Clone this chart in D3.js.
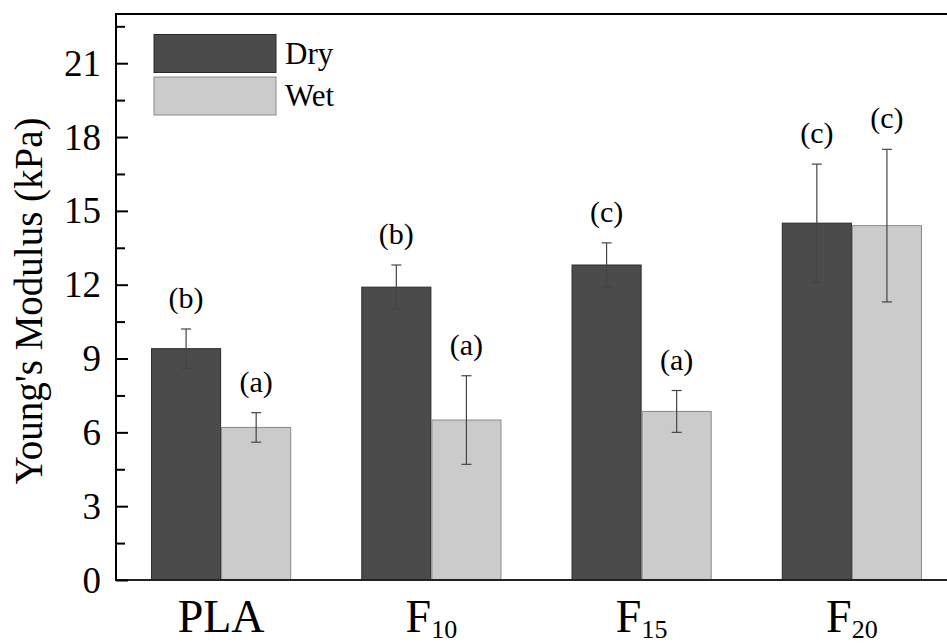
<!DOCTYPE html>
<html>
<head>
<meta charset="utf-8">
<script src="https://cdn.jsdelivr.net/npm/d3@7/dist/d3.min.js"></script>
<style>
  body{margin:0;background:#fff;}
  svg{display:block;font-family:"Liberation Serif","Times New Roman",serif;}
</style>
</head>
<body>
<svg width="947" height="644"></svg>
<script>
// data
const categories=['PLA','F','F','F'];
const subscripts=['','10','15','20'];
const series=['Dry','Wet'];
const dryValues=[9.4,11.9,12.8,14.5];
const dryErrors=[0.8,0.9,0.9,2.4];
const wetValues=[6.2,6.5,6.85,14.4];
const wetErrors=[0.6,1.8,0.85,3.1];
const dryLetters=['(b)','(b)','(c)','(c)'];
const wetLetters=['(a)','(a)','(a)','(c)'];
const yTicks=[0,3,6,9,12,15,18,21];

const svg=d3.select('svg');
const mLeft=116,mTop=14,mBottom=580,mRight=957;
const colors={Dry:'#4b4b4b',Wet:'#cbcbcb'};
const strokes={Dry:'#2a2a2a',Wet:'#8a8a8a'};

const groups=categories.map((c,i)=>'g'+i);
const x=d3.scaleBand()
  .domain(groups)
  .range([mLeft,mRight])
  .paddingInner(1/3)
  .paddingOuter(1/6);
const xSub=d3.scaleBand()
  .domain(series)
  .range([0,x.bandwidth()]);
const y=d3.scaleLinear()
  .domain([0,23])
  .range([mBottom,mTop]);

const rows=[];
groups.forEach((g,i)=>{
  rows.push({g:g,s:'Dry',v:dryValues[i],e:dryErrors[i],l:dryLetters[i]});
  rows.push({g:g,s:'Wet',v:wetValues[i],e:wetErrors[i],l:wetLetters[i]});
});

// bars
svg.selectAll('.bar')
  .data(rows)
  .enter()
  .append('rect')
  .classed('bar',true)
  .attr('x',d=>x(d.g)+xSub(d.s)+0.5)
  .attr('y',d=>y(d.v))
  .attr('width',xSub.bandwidth()-1)
  .attr('height',d=>y(0)-y(d.v))
  .attr('fill',d=>colors[d.s])
  .attr('stroke',d=>strokes[d.s])
  .attr('stroke-width',1);

// error bars
const cx=d=>x(d.g)+xSub(d.s)+xSub.bandwidth()/2;
const err=svg.selectAll('.err')
  .data(rows)
  .enter()
  .append('g')
  .classed('err',true)
  .attr('stroke','#444')
  .attr('stroke-width',1.2);
err.append('line')
  .attr('x1',cx).attr('x2',cx)
  .attr('y1',d=>y(d.v-d.e)).attr('y2',d=>y(d.v+d.e));
err.append('line')
  .attr('x1',d=>cx(d)-5).attr('x2',d=>cx(d)+5)
  .attr('y1',d=>y(d.v+d.e)).attr('y2',d=>y(d.v+d.e));
err.append('line')
  .attr('x1',d=>cx(d)-5).attr('x2',d=>cx(d)+5)
  .attr('y1',d=>y(d.v-d.e)).attr('y2',d=>y(d.v-d.e));

// significance letters
svg.selectAll('.letter')
  .data(rows)
  .enter()
  .append('text')
  .classed('letter',true)
  .attr('x',cx)
  .attr('y',d=>y(d.v+d.e)-21)
  .attr('text-anchor','middle')
  .attr('font-size',30)
  .text(d=>d.l);

// frame lines
svg.append('line')
  .attr('x1',mLeft).attr('x2',mRight+2)
  .attr('y1',mTop).attr('y2',mTop)
  .attr('stroke','#000').attr('stroke-width',2);
svg.append('line')
  .attr('x1',mLeft).attr('x2',mRight+2)
  .attr('y1',mBottom).attr('y2',mBottom)
  .attr('stroke','#222').attr('stroke-width',2);

// y axis, ticks inside
const yAxis=svg.append('g')
  .attr('transform','translate('+mLeft+',0)')
  .call(d3.axisRight(y).tickValues(yTicks).tickSize(12).tickFormat(''));
yAxis.select('.domain').attr('stroke-width',2).attr('d','M0,'+(mTop-1)+'V'+(mBottom+1));
yAxis.selectAll('.tick line').attr('stroke-width',2);
const minor=d3.range(1.5,23,3);
svg.append('g')
  .attr('transform','translate('+mLeft+',0)')
  .call(d3.axisRight(y).tickValues(minor).tickSize(9).tickFormat(''))
  .call(g=>g.select('.domain').remove())
  .selectAll('.tick line').attr('stroke-width',2);

svg.selectAll('.ylab')
  .data(yTicks)
  .enter()
  .append('text')
  .classed('ylab',true)
  .attr('x',mLeft-15)
  .attr('y',d=>y(d))
  .attr('dy','0.34em')
  .attr('text-anchor','end')
  .attr('font-size',37)
  .text(d=>d);

// x labels
const xl=svg.selectAll('.xlab')
  .data(groups)
  .enter()
  .append('text')
  .classed('xlab',true)
  .attr('x',g=>x(g)+x.bandwidth()/2)
  .attr('y',632)
  .attr('text-anchor','middle')
  .attr('font-size',46);
xl.append('tspan').text((g,i)=>categories[i]);
xl.append('tspan')
  .attr('font-size',26)
  .attr('dy',6)
  .text((g,i)=>subscripts[i]);

// y title
svg.append('text')
  .attr('transform','translate(42,'+((mTop+mBottom)/2+4)+') rotate(-90)')
  .attr('text-anchor','middle')
  .attr('font-size',39)
  .text("Young's Modulus (kPa)");

// legend
const leg=svg.selectAll('.leg')
  .data(series)
  .enter()
  .append('g')
  .classed('leg',true)
  .attr('transform',(s,i)=>'translate(154,'+(34.5+i*42.5)+')');
leg.append('rect')
  .attr('width',122).attr('height',38)
  .attr('fill',s=>colors[s])
  .attr('stroke',s=>strokes[s])
  .attr('stroke-width',1);
leg.append('text')
  .attr('x',131).attr('y',29)
  .attr('font-size',31)
  .text(s=>s);
</script>
</body>
</html>
